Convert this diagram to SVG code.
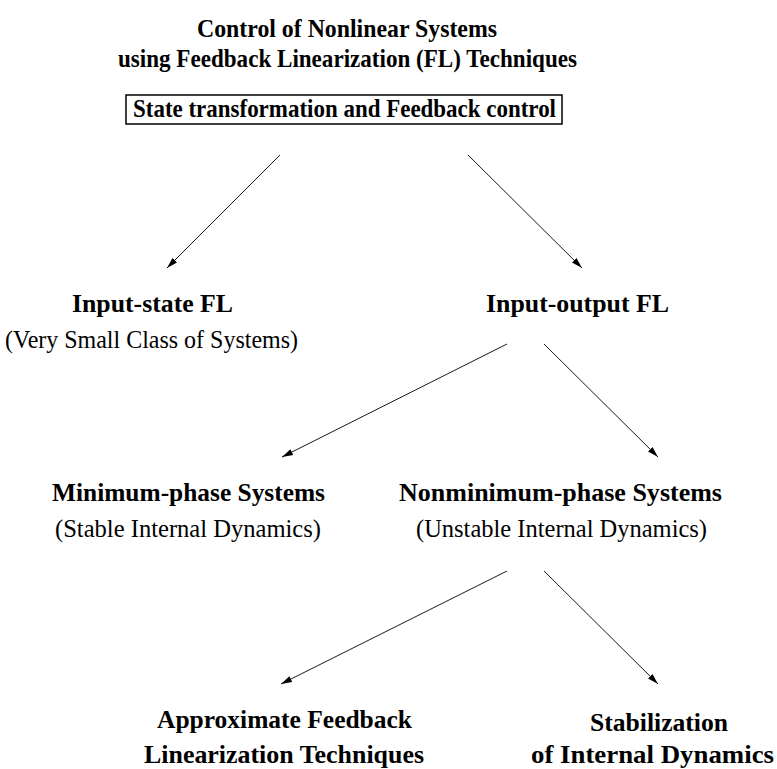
<svg xmlns="http://www.w3.org/2000/svg" width="777" height="769" viewBox="0 0 777 769">
<style>
text{font-family:'Liberation Serif','DejaVu Serif',serif;font-size:25px;fill:#000}
.b{font-weight:bold}
.c{stroke:#1a1a1a;stroke-width:1;fill:none;marker-end:url(#ah)}
</style>
<defs>
<marker id="ah" markerUnits="userSpaceOnUse" markerWidth="12" markerHeight="8" refX="11" refY="4" orient="auto">
<path d="M0,0.8 L11,4 L0,7.2 Z" fill="#000"/>
</marker>
</defs>
<rect width="777" height="769" fill="#fff"/>
<g id="title" font-family="Liberation Serif, DejaVu Serif, serif">
<text class="b" x="197" y="37" textLength="300" lengthAdjust="spacingAndGlyphs">Control of Nonlinear Systems</text>
<text class="b" x="118" y="67" textLength="459" lengthAdjust="spacingAndGlyphs">using Feedback Linearization (FL) Techniques</text>
</g>
<g id="root">
<rect x="126" y="95" width="436" height="29" fill="none" stroke="#000" stroke-width="1.5"/>
<text class="b" x="133" y="117" textLength="423" lengthAdjust="spacingAndGlyphs">State transformation and Feedback control</text>
</g>
<g id="input-state">
<text class="b" x="72" y="312" textLength="161" lengthAdjust="spacingAndGlyphs">Input-state FL</text>
<text x="5" y="348" textLength="293" lengthAdjust="spacingAndGlyphs">(Very Small Class of Systems)</text>
</g>
<g id="input-output">
<text class="b" x="486" y="312" textLength="183" lengthAdjust="spacingAndGlyphs">Input-output FL</text>
</g>
<g id="minimum-phase">
<text class="b" x="52" y="501" textLength="273" lengthAdjust="spacingAndGlyphs">Minimum-phase Systems</text>
<text x="55" y="537" textLength="266" lengthAdjust="spacingAndGlyphs">(Stable Internal Dynamics)</text>
</g>
<g id="nonminimum-phase">
<text class="b" x="399" y="501" textLength="323" lengthAdjust="spacingAndGlyphs">Nonminimum-phase Systems</text>
<text x="416" y="537" textLength="291" lengthAdjust="spacingAndGlyphs">(Unstable Internal Dynamics)</text>
</g>
<g id="approximate">
<text class="b" x="157" y="728" textLength="255" lengthAdjust="spacingAndGlyphs">Approximate Feedback</text>
<text class="b" x="144" y="763" textLength="280" lengthAdjust="spacingAndGlyphs">Linearization Techniques</text>
</g>
<g id="stabilization">
<text class="b" x="590" y="731" textLength="138" lengthAdjust="spacingAndGlyphs">Stabilization</text>
<text class="b" x="531" y="763" textLength="243" lengthAdjust="spacingAndGlyphs">of Internal Dynamics</text>
</g>
<g id="connectors">
<line class="c" x1="280" y1="155" x2="167" y2="268"/>
<line class="c" x1="468" y1="155" x2="582" y2="268"/>
<line class="c" x1="507" y1="344" x2="282" y2="457"/>
<line class="c" x1="544" y1="344" x2="658" y2="457"/>
<line class="c" x1="507" y1="571" x2="281" y2="684"/>
<line class="c" x1="544" y1="571" x2="658" y2="684"/>
</g>
</svg>
